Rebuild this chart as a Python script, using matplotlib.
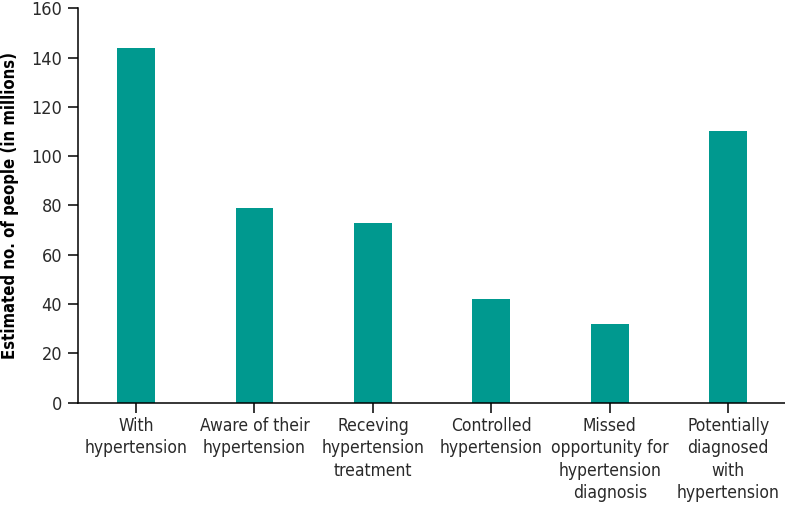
import matplotlib
matplotlib.use('Agg')
import matplotlib.pyplot as plt

# Data
categories = [
    'With\nhypertension',
    'Aware of their\nhypertension',
    'Receving\nhypertension\ntreatment',
    'Controlled\nhypertension',
    'Missed\nopportunity for\nhypertension\ndiagnosis',
    'Potentially\ndiagnosed\nwith\nhypertension',
]
values = [144, 79, 73, 42, 32, 110]
y_ticks = [0, 20, 40, 60, 80, 100, 120, 140, 160]

# DejaVu Sans Condensed is the closest narrow face available
plt.rcParams['font.family'] = 'DejaVu Sans'
plt.rcParams['font.stretch'] = 'condensed'

fig = plt.figure(figsize=(7.85, 5.13), dpi=100)
ax = fig.add_axes([0.0994, 0.215, 0.9006, 0.769])

x = range(len(categories))
ax.bar(x, values, width=0.32, color='#00998F')

ax.set_xlim(-0.49, 5.48)
ax.set_ylim(0, 160)
ax.set_yticks(y_ticks)
ax.set_xticks(list(x))
ax.set_xticklabels(categories, fontsize=12.5, color='#2a2a2a', linespacing=1.3)
ax.tick_params(axis='y', labelsize=13, length=7.5, width=1.1, labelcolor='#2a2a2a', pad=4)
ax.tick_params(axis='x', length=7.5, width=1.1, pad=3)
ax.set_ylabel('Estimated no. of people (in millions)', fontsize=12, fontweight='bold', labelpad=9)

for side in ['top', 'right']:
    ax.spines[side].set_visible(False)
for side in ['left', 'bottom']:
    ax.spines[side].set_linewidth(1.1)

plt.savefig('out.png', dpi=100)
plt.close()
